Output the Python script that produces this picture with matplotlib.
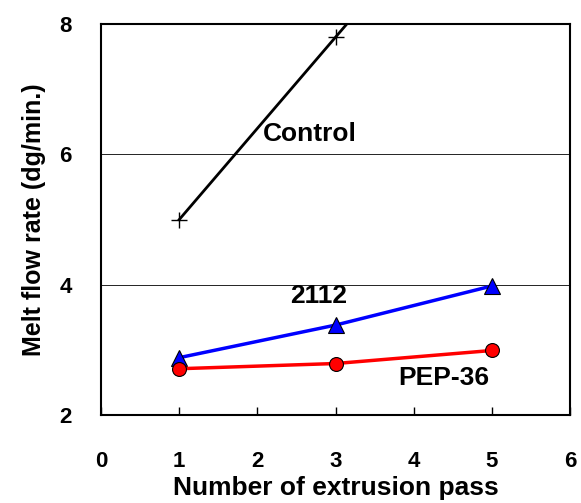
import matplotlib
matplotlib.use("Agg")
import matplotlib.pyplot as plt

plt.rcParams['font.family'] = ['Liberation Sans', 'DejaVu Sans']
plt.rcParams['font.weight'] = 'bold'
plt.rcParams['axes.labelweight'] = 'bold'

# data
passes = [1, 3, 5]
control = [5.0, 7.8, 10.6]
mfr_2112 = [2.88, 3.38, 3.98]
pep_36 = [2.71, 2.79, 2.99]

fig = plt.figure(figsize=(5.81, 5.03), dpi=100)
ax = fig.add_axes([0.174, 0.175, 0.807, 0.777])

ax.plot(passes, control, color='black', lw=2, marker='+', ms=12, mew=1)
ax.plot(passes, mfr_2112, color='#0000ff', lw=2.5, marker='^', ms=11,
        mfc='#0000ff', mec='black', mew=0.8)
ax.plot(passes, pep_36, color='#ff0000', lw=2.5, marker='o', ms=10,
        mfc='#ff0000', mec='black', mew=0.8)

ax.set_xlim(0, 6)
ax.set_ylim(2, 8)
ax.set_xticks(range(0, 7))
ax.set_yticks([2, 4, 6, 8])
ax.grid(axis='y', color='black', lw=0.6)
ax.set_axisbelow(True)
for s in ax.spines.values():
    s.set_linewidth(1.5)

ax.tick_params(axis='x', direction='in', length=6, width=1, pad=26, labelsize=16)
ax.tick_params(axis='y', direction='in', length=0, pad=21, labelsize=16)

ax.text(2.67, 6.31, 'Control', fontsize=19, fontweight='bold', ha='center', va='center')
ax.text(2.78, 3.82, '2112', fontsize=19, fontweight='bold', ha='center', va='center')
ax.text(4.38, 2.57, 'PEP-36', fontsize=19, fontweight='bold', ha='center', va='center')

ax.set_xlabel('Number of extrusion pass', fontsize=19, labelpad=3)
ax.set_ylabel('Melt flow rate (dg/min.)', fontsize=18, labelpad=10)

fig.savefig('out.png', dpi=100)
